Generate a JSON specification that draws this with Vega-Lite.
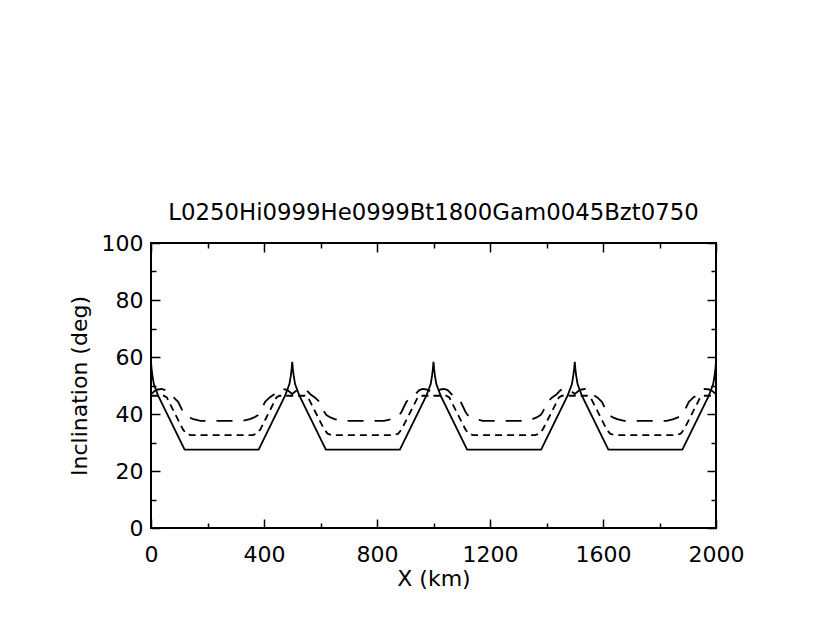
{
  "$schema": "https://vega.github.io/schema/vega-lite/v6.json",
  "autosize": "none",
  "padding": {"left": 151, "top": 243, "right": 114, "bottom": 114},
  "width": 565,
  "height": 285,
  "background": "white",
  "title": {"text": "L0250Hi0999He0999Bt1800Gam0045Bzt0750", "font": "DejaVu Sans", "fontSize": 22.8, "fontWeight": "normal", "color": "black", "offset": 7, "anchor": "middle"},
  "config": {
    "view": {"stroke": "black", "strokeWidth": 2},
    "axis": {"grid": false, "domain": false, "tickColor": "black", "tickWidth": 1.5, "labelFont": "DejaVu Sans", "labelFontSize": 22, "labelColor": "black", "titleFont": "DejaVu Sans", "titleFontSize": 22, "titleFontWeight": "normal", "titleColor": "black", "labelFlush": false, "labelOverlap": false, "format": "d"}
  },
  "data": {"values": [
    {"s":"solid","x":0,"y":58.3},{"s":"solid","x":2,"y":56},{"s":"solid","x":5,"y":53.5},{"s":"solid","x":10,"y":50.5},{"s":"solid","x":25,"y":46.5},{"s":"solid","x":119,"y":27.5},
    {"s":"solid","x":381,"y":27.5},{"s":"solid","x":475,"y":46.5},{"s":"solid","x":490,"y":50.5},{"s":"solid","x":495,"y":53.5},{"s":"solid","x":498,"y":56},{"s":"solid","x":500,"y":58.3},{"s":"solid","x":502,"y":56},{"s":"solid","x":505,"y":53.5},{"s":"solid","x":510,"y":50.5},{"s":"solid","x":525,"y":46.5},{"s":"solid","x":619,"y":27.5},
    {"s":"solid","x":881,"y":27.5},{"s":"solid","x":975,"y":46.5},{"s":"solid","x":990,"y":50.5},{"s":"solid","x":995,"y":53.5},{"s":"solid","x":998,"y":56},{"s":"solid","x":1000,"y":58.3},{"s":"solid","x":1002,"y":56},{"s":"solid","x":1005,"y":53.5},{"s":"solid","x":1010,"y":50.5},{"s":"solid","x":1025,"y":46.5},{"s":"solid","x":1119,"y":27.5},
    {"s":"solid","x":1381,"y":27.5},{"s":"solid","x":1475,"y":46.5},{"s":"solid","x":1490,"y":50.5},{"s":"solid","x":1495,"y":53.5},{"s":"solid","x":1498,"y":56},{"s":"solid","x":1500,"y":58.3},{"s":"solid","x":1502,"y":56},{"s":"solid","x":1505,"y":53.5},{"s":"solid","x":1510,"y":50.5},{"s":"solid","x":1525,"y":46.5},{"s":"solid","x":1619,"y":27.5},
    {"s":"solid","x":1881,"y":27.5},{"s":"solid","x":1975,"y":46.5},{"s":"solid","x":1990,"y":50.5},{"s":"solid","x":1995,"y":53.5},{"s":"solid","x":1998,"y":56},{"s":"solid","x":2000,"y":58.3},

    {"s":"dash","x":0,"y":46.4},{"s":"dash","x":25,"y":46.4},{"s":"dash","x":45,"y":46.4},{"s":"dash","x":56,"y":45.8},{"s":"dash","x":66,"y":43.8},{"s":"dash","x":113,"y":34.6},{"s":"dash","x":125,"y":33.1},{"s":"dash","x":140,"y":32.6},
    {"s":"dash","x":360,"y":32.6},{"s":"dash","x":375,"y":33.1},{"s":"dash","x":387,"y":34.6},{"s":"dash","x":434,"y":43.8},{"s":"dash","x":444,"y":45.8},{"s":"dash","x":455,"y":46.4},{"s":"dash","x":475,"y":46.4},{"s":"dash","x":500,"y":46.4},{"s":"dash","x":525,"y":46.4},{"s":"dash","x":545,"y":46.4},{"s":"dash","x":556,"y":45.8},{"s":"dash","x":566,"y":43.8},{"s":"dash","x":613,"y":34.6},{"s":"dash","x":625,"y":33.1},{"s":"dash","x":640,"y":32.6},
    {"s":"dash","x":860,"y":32.6},{"s":"dash","x":875,"y":33.1},{"s":"dash","x":887,"y":34.6},{"s":"dash","x":934,"y":43.8},{"s":"dash","x":944,"y":45.8},{"s":"dash","x":955,"y":46.4},{"s":"dash","x":975,"y":46.4},{"s":"dash","x":1000,"y":46.4},{"s":"dash","x":1025,"y":46.4},{"s":"dash","x":1045,"y":46.4},{"s":"dash","x":1056,"y":45.8},{"s":"dash","x":1066,"y":43.8},{"s":"dash","x":1113,"y":34.6},{"s":"dash","x":1125,"y":33.1},{"s":"dash","x":1140,"y":32.6},
    {"s":"dash","x":1360,"y":32.6},{"s":"dash","x":1375,"y":33.1},{"s":"dash","x":1387,"y":34.6},{"s":"dash","x":1434,"y":43.8},{"s":"dash","x":1444,"y":45.8},{"s":"dash","x":1455,"y":46.4},{"s":"dash","x":1475,"y":46.4},{"s":"dash","x":1500,"y":46.4},{"s":"dash","x":1525,"y":46.4},{"s":"dash","x":1545,"y":46.4},{"s":"dash","x":1556,"y":45.8},{"s":"dash","x":1566,"y":43.8},{"s":"dash","x":1613,"y":34.6},{"s":"dash","x":1625,"y":33.1},{"s":"dash","x":1640,"y":32.6},
    {"s":"dash","x":1860,"y":32.6},{"s":"dash","x":1875,"y":33.1},{"s":"dash","x":1887,"y":34.6},{"s":"dash","x":1934,"y":43.8},{"s":"dash","x":1944,"y":45.8},{"s":"dash","x":1955,"y":46.4},{"s":"dash","x":1975,"y":46.4},{"s":"dash","x":2000,"y":46.4},

    {"s":"long","x":0,"y":47.0},{"s":"long","x":15,"y":48.2},{"s":"long","x":25,"y":48.6},{"s":"long","x":38,"y":48.8},{"s":"long","x":50,"y":48.4},{"s":"long","x":58,"y":47.6},{"s":"long","x":65,"y":46.8},{"s":"long","x":80,"y":45.8},{"s":"long","x":96,"y":44.3},{"s":"long","x":113,"y":40.8},{"s":"long","x":121,"y":39.6},{"s":"long","x":135,"y":38.8},{"s":"long","x":150,"y":38.2},{"s":"long","x":175,"y":37.6},
    {"s":"long","x":325,"y":37.6},{"s":"long","x":350,"y":38.2},{"s":"long","x":365,"y":38.8},{"s":"long","x":379,"y":39.6},{"s":"long","x":387,"y":40.8},{"s":"long","x":404,"y":44.3},{"s":"long","x":420,"y":45.8},{"s":"long","x":435,"y":46.8},{"s":"long","x":442,"y":47.6},{"s":"long","x":450,"y":48.4},{"s":"long","x":462,"y":48.8},{"s":"long","x":475,"y":48.6},{"s":"long","x":485,"y":48.2},{"s":"long","x":500,"y":47.0},{"s":"long","x":515,"y":48.2},{"s":"long","x":525,"y":48.6},{"s":"long","x":538,"y":48.8},{"s":"long","x":550,"y":48.4},{"s":"long","x":558,"y":47.6},{"s":"long","x":565,"y":46.8},{"s":"long","x":580,"y":45.8},{"s":"long","x":596,"y":44.3},{"s":"long","x":613,"y":40.8},{"s":"long","x":621,"y":39.6},{"s":"long","x":635,"y":38.8},{"s":"long","x":650,"y":38.2},{"s":"long","x":675,"y":37.6},
    {"s":"long","x":825,"y":37.6},{"s":"long","x":850,"y":38.2},{"s":"long","x":865,"y":38.8},{"s":"long","x":879,"y":39.6},{"s":"long","x":887,"y":40.8},{"s":"long","x":904,"y":44.3},{"s":"long","x":920,"y":45.8},{"s":"long","x":935,"y":46.8},{"s":"long","x":942,"y":47.6},{"s":"long","x":950,"y":48.4},{"s":"long","x":962,"y":48.8},{"s":"long","x":975,"y":48.6},{"s":"long","x":985,"y":48.2},{"s":"long","x":1000,"y":47.0},{"s":"long","x":1015,"y":48.2},{"s":"long","x":1025,"y":48.6},{"s":"long","x":1038,"y":48.8},{"s":"long","x":1050,"y":48.4},{"s":"long","x":1058,"y":47.6},{"s":"long","x":1065,"y":46.8},{"s":"long","x":1080,"y":45.8},{"s":"long","x":1096,"y":44.3},{"s":"long","x":1113,"y":40.8},{"s":"long","x":1121,"y":39.6},{"s":"long","x":1135,"y":38.8},{"s":"long","x":1150,"y":38.2},{"s":"long","x":1175,"y":37.6},
    {"s":"long","x":1325,"y":37.6},{"s":"long","x":1350,"y":38.2},{"s":"long","x":1365,"y":38.8},{"s":"long","x":1379,"y":39.6},{"s":"long","x":1387,"y":40.8},{"s":"long","x":1404,"y":44.3},{"s":"long","x":1420,"y":45.8},{"s":"long","x":1435,"y":46.8},{"s":"long","x":1442,"y":47.6},{"s":"long","x":1450,"y":48.4},{"s":"long","x":1462,"y":48.8},{"s":"long","x":1475,"y":48.6},{"s":"long","x":1485,"y":48.2},{"s":"long","x":1500,"y":47.0},{"s":"long","x":1515,"y":48.2},{"s":"long","x":1525,"y":48.6},{"s":"long","x":1538,"y":48.8},{"s":"long","x":1550,"y":48.4},{"s":"long","x":1558,"y":47.6},{"s":"long","x":1565,"y":46.8},{"s":"long","x":1580,"y":45.8},{"s":"long","x":1596,"y":44.3},{"s":"long","x":1613,"y":40.8},{"s":"long","x":1621,"y":39.6},{"s":"long","x":1635,"y":38.8},{"s":"long","x":1650,"y":38.2},{"s":"long","x":1675,"y":37.6},
    {"s":"long","x":1825,"y":37.6},{"s":"long","x":1850,"y":38.2},{"s":"long","x":1865,"y":38.8},{"s":"long","x":1879,"y":39.6},{"s":"long","x":1887,"y":40.8},{"s":"long","x":1904,"y":44.3},{"s":"long","x":1920,"y":45.8},{"s":"long","x":1935,"y":46.8},{"s":"long","x":1942,"y":47.6},{"s":"long","x":1950,"y":48.4},{"s":"long","x":1962,"y":48.8},{"s":"long","x":1975,"y":48.6},{"s":"long","x":1985,"y":48.2},{"s":"long","x":2000,"y":47.0}
  ]},
  "resolve": {"axis": {"x": "independent", "y": "independent"}},
  "layer": [
    {
      "mark": {"type": "line", "color": "black", "strokeWidth": 1.8, "clip": true},
      "encoding": {
        "x": {"field": "x", "type": "quantitative", "scale": {"domain": [0, 2000], "nice": false, "zero": false},
              "axis": {"orient": "bottom", "values": [0, 400, 800, 1200, 1600, 2000], "tickSize": -9, "labelPadding": 25, "title": "X (km)", "titlePadding": 3}},
        "y": {"field": "y", "type": "quantitative", "scale": {"domain": [0, 100], "nice": false, "zero": false},
              "axis": {"orient": "left", "values": [0, 20, 40, 60, 80, 100], "tickSize": -9, "labelPadding": 17, "title": "Inclination (deg)", "titlePadding": 10}},
        "strokeDash": {"field": "s", "type": "nominal", "scale": {"domain": ["solid", "dash", "long"], "range": [[1, 0], [7, 5], [16, 11]]}, "legend": null},
        "order": {"field": "x", "type": "quantitative"}
      }
    },
    {
      "mark": {"type": "point", "opacity": 0},
      "encoding": {
        "x": {"field": "x", "type": "quantitative", "axis": {"orient": "bottom", "values": [200, 600, 1000, 1400, 1800], "tickSize": -5, "labels": false, "title": null}},
        "y": {"field": "y", "type": "quantitative", "axis": {"orient": "left", "values": [10, 30, 50, 70, 90], "tickSize": -5, "labels": false, "title": null}}
      }
    },
    {
      "mark": {"type": "point", "opacity": 0},
      "encoding": {
        "x": {"field": "x", "type": "quantitative", "axis": {"orient": "top", "values": [0, 400, 800, 1200, 1600, 2000], "tickSize": -9, "labels": false, "title": null}},
        "y": {"field": "y", "type": "quantitative", "axis": {"orient": "right", "values": [0, 20, 40, 60, 80, 100], "tickSize": -9, "labels": false, "title": null}}
      }
    },
    {
      "mark": {"type": "point", "opacity": 0},
      "encoding": {
        "x": {"field": "x", "type": "quantitative", "axis": {"orient": "top", "values": [200, 600, 1000, 1400, 1800], "tickSize": -5, "labels": false, "title": null}},
        "y": {"field": "y", "type": "quantitative", "axis": {"orient": "right", "values": [10, 30, 50, 70, 90], "tickSize": -5, "labels": false, "title": null}}
      }
    }
  ]
}
